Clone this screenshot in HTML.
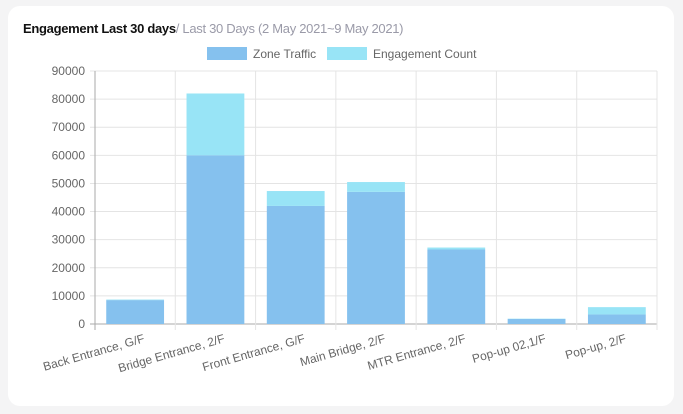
<!DOCTYPE html>
<html><head><meta charset="utf-8">
<style>
body{margin:0;background:#f4f4f5;width:683px;height:414px;overflow:hidden;font-family:"Liberation Sans",sans-serif;}
.card{position:absolute;left:8px;top:6px;width:666px;height:400px;background:#fff;border-radius:12px;}
.title{position:absolute;left:23px;top:21px;font-size:13px;letter-spacing:-0.3px;color:#111;white-space:nowrap;}
.title b{font-weight:bold;}
.title span{color:#9a9aa8;}
svg{position:absolute;left:0;top:0;}
</style></head><body>
<div class="card"></div>
<div class="title"><b>Engagement Last 30 days</b><span>/ Last 30 Days (2 May 2021~9 May 2021)</span></div>
<svg id="c" width="683" height="414"></svg>
<script>
const categories=["Back Entrance, G/F","Bridge Entrance, 2/F","Front Entrance, G/F","Main Bridge, 2/F","MTR Entrance, 2/F","Pop-up 02,1/F","Pop-up, 2/F"];
const zoneTraffic=[8500,60000,42000,47000,26500,1800,3400];
const engagementCount=[200,22000,5300,3500,700,100,2600];
const yTicks=[0,10000,20000,30000,40000,50000,60000,70000,80000,90000];
const NS="http://www.w3.org/2000/svg";
const svg=document.getElementById('c');
const L=95,R=657,T=71,B=324,yMax=90000;
const y=v=>B-(v/yMax)*(B-T);
const cw=(R-L)/categories.length;
const x=i=>L+cw*i;
function el(t,a){const e=document.createElementNS(NS,t);for(const k in a)e.setAttribute(k,a[k]);svg.appendChild(e);return e;}
yTicks.forEach(v=>{
  const g=el('line',{x1:L-5,x2:R,y1:y(v),y2:y(v),stroke:v===0?'#aaa':'#e4e4e4'});
  
  
  const t=el('text',{x:L-10,y:y(v)+4,'text-anchor':'end','font-size':12,fill:'#666'});
  t.textContent=v;
  
  
});
for(let i=0;i<=categories.length;i++){
  const g=el('line',{x1:x(i),x2:x(i),y1:T,y2:B+6,stroke:i===0?'#aaa':'#e4e4e4'});
  
  
}
const bw=cw*0.72;
categories.forEach((c,i)=>{
  const bx=x(i)+(cw-bw)/2;
  const a=el('rect',{x:bx,y:y(zoneTraffic[i]),width:bw,height:B-y(zoneTraffic[i]),fill:'#85c1ee'});
  
  
  const tot=zoneTraffic[i]+engagementCount[i];
  const b=el('rect',{x:bx,y:y(tot),width:bw,height:y(zoneTraffic[i])-y(tot),fill:'#98e4f6'});
  
  
  const cx=x(i)+cw/2+10;
  const t=el('text',{x:cx,y:B+18,'text-anchor':'end','font-size':12,fill:'#666',transform:`rotate(-16 ${cx} ${B+18})`});
  t.textContent=c;
  
  
});
[['Zone Traffic','#85c1ee',207],['Engagement Count','#98e4f6',327]].forEach(([n,col,lx])=>{
  const r=el('rect',{x:lx,y:47,width:40,height:13,fill:col});
  
  
  const t=el('text',{x:lx+46,y:58,'font-size':12,fill:'#666'});
  t.textContent=n;
  
  
});
</script>
</body></html>
